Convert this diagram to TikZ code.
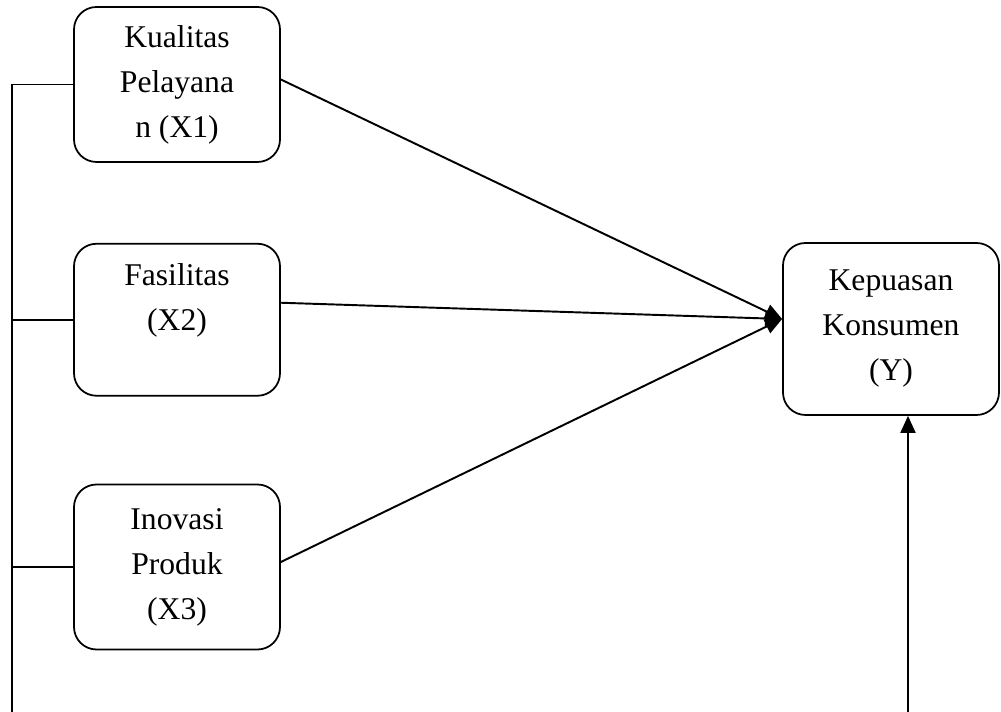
\documentclass[tikz,border=0pt]{standalone}
\usepackage{fontspec}
\setmainfont{Liberation Serif}
\usepackage{tikz}
\usetikzlibrary{arrows.meta,positioning,calc}
\colorlet{Ink}{black}

\begin{document}
\begin{tikzpicture}[
    node distance=1.6cm,
    varbox/.style={draw=Ink,line width=1pt,rounded corners=0.45cm,minimum width=4.12cm,align=center,font=\fontsize{18}{25.6}\selectfont,text=Ink},
    arr/.style={-{Triangle[length=3.4mm,width=3mm]},line width=1.1pt,Ink},
    link/.style={line width=1pt,Ink}
  ]
    \useasboundingbox (0,0) rectangle (20.02,14.24);
    \node[varbox,minimum height=3.10cm] (x1) at (3.54,12.55) {Kualitas\\Pelayana\\n (X1)};
    \node[varbox,minimum height=3.04cm,below=of x1] (x2) {Fasilitas\\(X2)\\\mbox{}};
    \node[varbox,minimum height=3.30cm,below=1.74cm of x2] (x3) {Inovasi\\Produk\\(X3)};
    \node[varbox,minimum width=4.32cm,minimum height=3.44cm] (y) at (17.82,7.66) {Kepuasan\\Konsumen\\(Y)};
    \coordinate (tip) at ($(y.west)+(0,0.2)$);
    \coordinate (b1) at (0.24,0);
    \coordinate (b2) at (18.16,0);
    \draw[arr] ([yshift=0.1cm]x1.east)--(tip); \draw[arr] ([yshift=0.34cm]x2.east)--(tip);
    \draw[arr] ([yshift=0.1cm]x3.east)--(tip);
    \draw[link] (b1)--(b1 |- x1.west)--(x1.west);
    \draw[link] (b1 |- x2.west)--(x2.west); \draw[link] (b1 |- x3.west)--(x3.west);
    \draw[arr] (b2)--(b2 |- y.south);
  \end{tikzpicture}
\end{document}
